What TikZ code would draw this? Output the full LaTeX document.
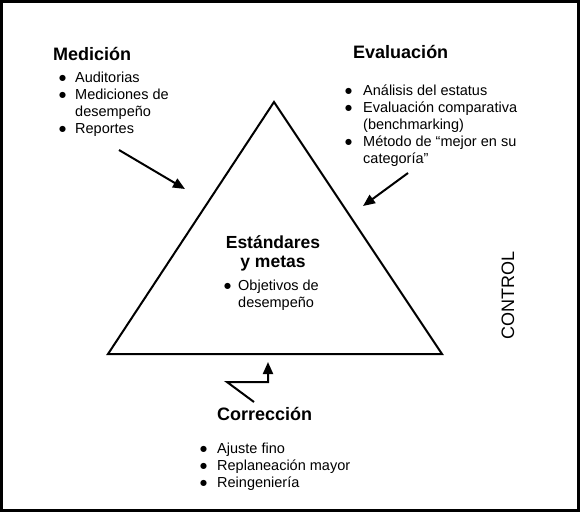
\documentclass[tikz,border=0pt]{standalone}
\usepackage{fontspec}
\setmainfont{Liberation Sans}
\newfontfamily\symfont{DejaVu Sans}
\usetikzlibrary{arrows.meta}
\newcommand
    {\BUL}
    {%
        \makebox[5pt]{\raisebox{1.8pt}{\symfont\fontsize{8}{8}\selectfont ●}}%
    }

\begin{document}
\begin{tikzpicture}[x=1pt,y=-1pt,
        title/.style={font=\bfseries\fontsize{18}{20}\selectfont,inner sep=0pt,anchor=base west},
        items/.style={font=\fontsize{14.5}{17}\selectfont,inner sep=0pt,anchor=base west},
        wire/.style={line width=2pt,-{Triangle[length=12pt,width=10pt]}}]
        \useasboundingbox (0,0) rectangle (580,512);

        % 1. Outer frame
        \draw[line width=3pt] (1.5,1.5) rectangle (578.5,510.5);

        % 2. Triangle
        \coordinate (apex) at (274,102);
        \coordinate (bl) at (108,354);
        \coordinate (br) at (442,354);
        \draw[line width=2pt,line join=miter] (apex) -- (br) -- (bl) -- cycle;

        % 3. Centre text
        \node (std) at (273,248) [font=\bfseries\fontsize{17.5}{19}\selectfont,inner sep=0pt,anchor=base]
            {\begin{tabular}[t]{@{}c@{}}Estándares\\y metas\end{tabular}};
        \node (stdl) at (225,290) [items]
            {\begin{tabular}[t]{@{}l@{\hspace{8pt}}l@{}}\BUL & Objetivos de\\ & desempeño\end{tabular}};

        % 4. Medicion (top left)
        \node (med) at (53,60) [title] {Medición};
        \node (medl) at (60,82) [items]
            {\begin{tabular}[t]{@{}l@{\hspace{10pt}}l@{}}\BUL & Auditorias\\\BUL & Mediciones de\\ & desempeño\\\BUL & Reportes\end{tabular}};
        \coordinate (medA) at (119,150);
        \coordinate (medB) at (185,189);
        \draw[wire] (medA) -- (medB);

        % 5. Evaluacion (top right)
        \node (eva) at (353,58) [title] {Evaluación};
        \node (eval) at (346,95) [items]
            {\begin{tabular}[t]{@{}l@{\hspace{12pt}}l@{}}\BUL & Análisis del estatus\\\BUL & Evaluación comparativa\\ & (benchmarking)\\\BUL & Método de “mejor en su\\ & categoría”\end{tabular}};
        \coordinate (evaA) at (408,173);
        \coordinate (evaB) at (363,206);
        \draw[wire] (evaA) -- (evaB);

        % 6. Correccion (bottom)
        \node (cor) at (217,420) [title] {Corrección};
        \node (corl) at (201,453) [items]
            {\begin{tabular}[t]{@{}l@{\hspace{11pt}}l@{}}\BUL & Ajuste fino\\\BUL & Replaneación mayor\\\BUL & Reingeniería\end{tabular}};
        \coordinate (cor0) at (254,402);
        \coordinate (cor1) at (227,382);
        \coordinate (cor2) at (268,382);
        \coordinate (cor3) at (268,362);
        \draw[wire,line join=miter] (cor0) -- (cor1) -- (cor2) -- (cor3);

        % 7. Side label
        \node (ctl) at (508,295) [font=\fontsize{18}{20}\selectfont,inner sep=0pt,rotate=90] {CONTROL};
\end{tikzpicture}
\end{document}
